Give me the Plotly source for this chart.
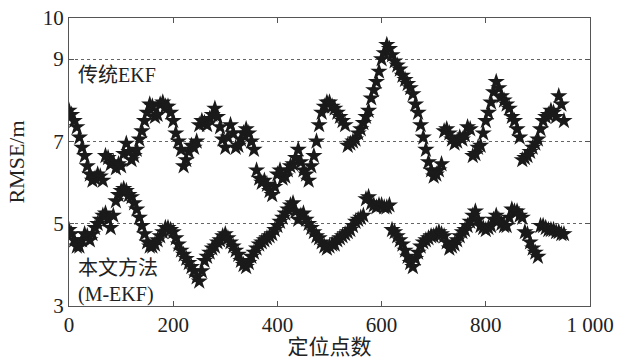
import plotly.graph_objects as go

# positioning point index (every 5 points, 0 .. 950)
x_vals = list(range(0, 951, 5))

ekf_rmse = [7.75, 7.65, 7.5, 7.35, 7.1, 6.85, 6.65, 6.4, 6.2, 6.05,
            6.1, 6.2, 6.15, 6.05, 6.65, 6.6, 6.45, 6.5, 6.35, 6.45,
            6.4, 6.7, 6.95, 6.75, 6.55, 6.65, 6.8, 7.05, 7.25, 7.5,
            7.7, 7.9, 7.85, 7.6, 7.65, 7.9, 7.95, 7.85, 7.85, 7.7,
            7.5, 7.2, 7.0, 6.8, 6.4, 6.55, 6.75, 6.9, 6.85, 7.0,
            7.4, 7.5, 7.45, 7.4, 7.55, 7.65, 7.8, 7.6, 7.35, 7.05,
            6.85, 7.1, 7.4, 7.2, 6.85, 6.9, 7.05, 7.2, 7.3, 7.2,
            7.0, 6.8, 6.3, 6.1, 6.0, 6.05, 5.95, 5.8, 5.7, 5.9,
            6.2, 6.3, 6.1, 6.15, 6.3, 6.4, 6.45, 6.6, 6.8, 6.5,
            6.3, 6.2, 6.05, 6.4, 6.65, 7.0, 7.4, 7.7, 7.85, 7.95,
            7.95, 7.85, 7.8, 7.7, 7.6, 7.5, 7.4, 6.9, 6.95, 7.0,
            7.05, 7.2, 7.3, 7.45, 7.6, 7.75, 8.05, 8.25, 8.45, 8.7,
            9.0, 9.15, 9.35, 9.25, 9.1, 8.95, 8.85, 8.75, 8.6, 8.5,
            8.4, 8.3, 8.15, 7.9, 7.7, 7.4, 7.1, 6.8, 6.5, 6.3,
            6.15, 6.2, 6.3, 6.45, 7.25, 7.3, 7.2, 7.05, 6.95, 7.0,
            7.1, 7.05, 7.15, 7.35, 7.3, 6.65, 6.7, 6.85, 6.9, 7.2,
            7.5, 7.7, 7.95, 8.2, 8.45, 8.3, 8.1, 8.0, 7.9, 7.8,
            7.6, 7.5, 7.3, 7.1, 6.55, 6.6, 6.65, 6.75, 6.85, 6.95,
            7.05, 7.3, 7.5, 7.6, 7.65, 7.75, 7.7, 7.6, 8.1, 7.9,
            7.5]

mekf_rmse = [4.85, 4.75, 4.6, 4.45, 4.45, 4.6, 4.75, 4.7, 4.6, 4.75,
             4.9, 5.0, 5.1, 5.2, 5.25, 5.1, 4.9, 5.2, 5.55, 5.7,
             5.8, 5.85, 5.8, 5.7, 5.65, 5.5, 5.35, 5.15, 4.95, 4.75,
             4.55, 4.45, 4.45, 4.5, 4.6, 4.7, 4.8, 4.9, 4.9, 4.85,
             4.8, 4.65, 4.5, 4.35, 4.25, 4.15, 4.05, 3.95, 3.85, 3.7,
             3.6, 3.85, 4.1, 4.2, 4.3, 4.4, 4.45, 4.55, 4.6, 4.7,
             4.75, 4.65, 4.55, 4.45, 4.35, 4.25, 4.1, 4.0, 3.95, 4.05,
             4.2, 4.3, 4.4, 4.5, 4.55, 4.6, 4.65, 4.7, 4.75, 4.85,
             4.95, 5.05, 5.15, 5.25, 5.35, 5.45, 5.5, 5.3, 5.1, 5.2,
             5.25, 5.1, 5.0, 4.9, 4.8, 4.7, 4.65, 4.55, 4.45, 4.4,
             4.45, 4.5, 4.5, 4.6, 4.65, 4.7, 4.75, 4.8, 4.85, 4.95,
             5.05, 5.1, 5.15, 5.2, 5.6, 5.65, 5.5, 5.45, 5.4, 5.45,
             5.45, 5.4, 5.4, 5.45, 4.85, 4.8, 4.7, 4.6, 4.5, 4.35,
             4.2, 4.05, 3.95, 4.15, 4.3, 4.45, 4.55, 4.6, 4.65, 4.7,
             4.7, 4.75, 4.8, 4.75, 4.7, 4.55, 4.4, 4.45, 4.5, 4.6,
             4.7, 4.8, 4.85, 4.95, 5.05, 5.2, 5.3, 5.1, 4.95, 4.9,
             4.85, 4.9, 4.95, 5.1, 5.2, 5.1, 5.0, 4.95, 4.95, 5.15,
             5.35, 5.3, 5.3, 5.2, 5.15, 4.8, 4.75, 4.55, 4.4, 4.3,
             4.2, 4.95, 4.95, 4.9, 4.85, 4.85, 4.85, 4.8, 4.8, 4.75,
             4.75]

x_ticks = [0, 200, 400, 600, 800, 1000]
x_tick_text = ["0", "200", "400", "600", "800", "1 000"]
y_ticks = [3, 5, 7, 9, 10]
y_tick_text = ["3", "5", "7", "9", "10"]

FONT = "Liberation Serif, Times New Roman, Noto Sans CJK SC, serif"
TXT = "#222"
marker = dict(symbol="star", size=13, color="#1a1a1a", line=dict(width=0))

fig = go.Figure()
fig.add_trace(go.Scatter(x=x_vals, y=ekf_rmse, mode="markers", marker=marker,
                         name="传统EKF", showlegend=False))
fig.add_trace(go.Scatter(x=x_vals, y=mekf_rmse, mode="markers", marker=marker,
                         name="本文方法(M-EKF)", showlegend=False))

fig.add_annotation(x=0.013, y=8.61, xref="paper", yref="y", text="传统EKF",
                   showarrow=False, xanchor="left", yanchor="middle",
                   font=dict(family=FONT, size=20, color=TXT))
fig.add_annotation(x=0.013, y=3.6, xref="paper", yref="y",
                   text="本文方法<br>(M-EKF)", align="left",
                   showarrow=False, xanchor="left", yanchor="middle",
                   font=dict(family=FONT, size=20, color=TXT))

axis_common = dict(showline=True, linecolor="#555", linewidth=1.2, mirror="ticks",
                   ticks="inside", ticklen=5, tickcolor="#555", zeroline=False,
                   automargin=False,
                   tickfont=dict(family=FONT, size=21, color=TXT))

fig.update_xaxes(range=[0, 1000], tickvals=x_ticks, ticktext=x_tick_text,
                 showgrid=False,
                 title=dict(text="定位点数", font=dict(family=FONT, size=21, color=TXT),
                            standoff=0),
                 **axis_common)
fig.update_yaxes(range=[3, 10], tickvals=y_ticks, ticktext=y_tick_text,
                 showgrid=True, gridcolor="#666", griddash="dot", gridwidth=1,
                 title=dict(text="RMSE/m", font=dict(family=FONT, size=22, color=TXT),
                            standoff=12),
                 **axis_common)

fig.update_layout(width=621, height=359, margin=dict(l=69, r=31, t=18, b=53),
                  plot_bgcolor="white", paper_bgcolor="white")

# remove the default 8px page margin so the figure sits at the window's corner
fig.write_html("out.html", config={"displayModeBar": False},
               post_script="document.body.style.margin='0px';")
